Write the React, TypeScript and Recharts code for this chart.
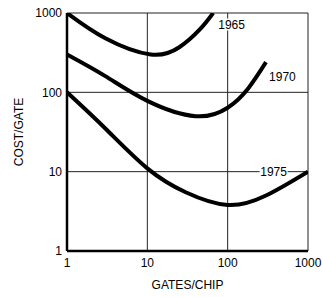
import React from "react";
import {
  CartesianGrid,
  Label,
  Line,
  LineChart,
  ReferenceDot,
  XAxis,
  YAxis,
} from "recharts";

// cost per gate vs gates per chip, log-log
const ticks = [1, 10, 100, 1000];

const curve1965 = [
  { x: 1, y: 1000 },
  { x: 3, y: 480 },
  { x: 11, y: 300 },
  { x: 25, y: 370 },
  { x: 45, y: 620 },
  { x: 66, y: 1000 },
];

const curve1970 = [
  { x: 1, y: 300 },
  { x: 3, y: 160 },
  { x: 10, y: 78 },
  { x: 40, y: 50 },
  { x: 100, y: 64 },
  { x: 180, y: 112 },
  { x: 300, y: 240 },
];

const curve1975 = [
  { x: 1, y: 100 },
  { x: 3, y: 35 },
  { x: 10, y: 11 },
  { x: 30, y: 5.5 },
  { x: 100, y: 3.8 },
  { x: 300, y: 5 },
  { x: 1000, y: 10 },
];

// where each year label sits (data coords)
const yearLabels = [
  { text: "1965", x: 112, y: 716 },
  { text: "1970", x: 480, y: 155 },
  { text: "1975", x: 373, y: 10 },
];

const font = "Arial, 'Liberation Sans', Helvetica, sans-serif";

function YearLabel(props: any) {
  const { viewBox, value } = props;
  const cx = viewBox.x + (viewBox.width || 0) / 2;
  const cy = viewBox.y + (viewBox.height || 0) / 2;
  return (
    <g>
      <rect x={cx - 14} y={cy - 6} width={28} height={12} fill="#fff" />
      <text
        x={cx}
        y={cy}
        textAnchor="middle"
        dominantBaseline="central"
        fontFamily={font}
        fontSize={12}
        fill="#000"
      >
        {value}
      </text>
    </g>
  );
}

export default function App() {
  return (
    <div style={{ position: "absolute", left: 0, top: 0, background: "#fff" }}>
      <LineChart
        width={322}
        height={297}
        margin={{ top: 13, right: 14, left: 0, bottom: 0 }}
      >
        <CartesianGrid stroke="#222" strokeWidth={1} />
        <XAxis
          type="number"
          dataKey="x"
          scale="log"
          domain={[1, 1000]}
          ticks={ticks}
          allowDataOverflow
          height={46}
          tickSize={0}
          tickMargin={7}
          axisLine={{ stroke: "#000", strokeWidth: 2.5 }}
          tick={{ fill: "#000", fontSize: 12, fontFamily: font }}
        >
          <Label
            value="GATES/CHIP"
            position="insideBottom"
            offset={8}
            style={{ fill: "#000", fontSize: 12, fontFamily: font }}
          />
        </XAxis>
        <YAxis
          type="number"
          dataKey="y"
          scale="log"
          domain={[1, 1000]}
          ticks={ticks}
          allowDataOverflow
          width={67}
          tickSize={0}
          tickMargin={5}
          axisLine={{ stroke: "#000", strokeWidth: 2.5 }}
          tick={{ fill: "#000", fontSize: 12, fontFamily: font }}
        >
          <Label
            value="COST/GATE"
            angle={-90}
            position="insideLeft"
            offset={19}
            style={{ fill: "#000", fontSize: 12, fontFamily: font, textAnchor: "middle" }}
          />
        </YAxis>
        <Line
          data={curve1965}
          dataKey="y"
          type="natural"
          stroke="#000"
          strokeWidth={4}
          dot={false}
          isAnimationActive={false}
        />
        <Line
          data={curve1970}
          dataKey="y"
          type="natural"
          stroke="#000"
          strokeWidth={4}
          dot={false}
          isAnimationActive={false}
        />
        <Line
          data={curve1975}
          dataKey="y"
          type="natural"
          stroke="#000"
          strokeWidth={4}
          dot={false}
          isAnimationActive={false}
        />
        {yearLabels.map((l) => (
          <ReferenceDot
            key={l.text}
            x={l.x}
            y={l.y}
            r={0}
            stroke="none"
            fill="none"
            label={<YearLabel value={l.text} />}
          />
        ))}
      </LineChart>
    </div>
  );
}
